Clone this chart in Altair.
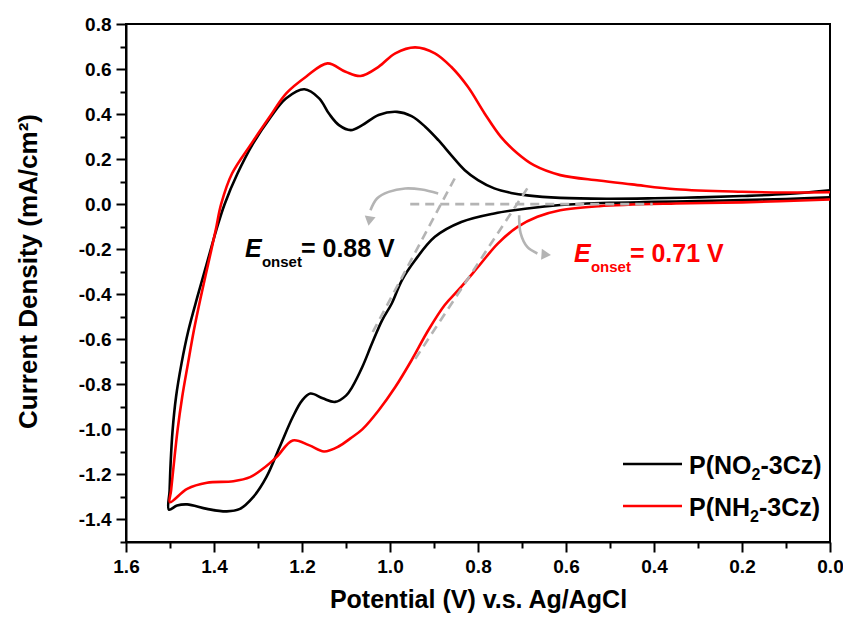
import altair as alt
import pandas as pd

# ---------------- data ----------------
# P(NO2-3Cz) : closed CV loop, potential (V) and current density (mA/cm2)
no2_v = [0.00, 0.10, 0.20, 0.30, 0.40, 0.508, 0.613, 0.688, 0.725, 0.763, 0.800, 0.830,
         0.861, 0.890, 0.920, 0.951, 0.984, 1.026, 1.063, 1.089, 1.116, 1.138, 1.161,
         1.1946, 1.2358, 1.2734, 1.311, 1.3466, 1.3759, 1.395, 1.4164, 1.4378, 1.4581, 1.4739,
         1.4863, 1.4941, 1.4986, 1.5009, 1.5025,
         1.484, 1.461, 1.416, 1.371, 1.341, 1.311, 1.281, 1.251, 1.221, 1.200, 1.181,
         1.153, 1.125, 1.100, 1.086, 1.063, 1.041, 1.018, 0.996, 0.973, 0.943, 0.898,
         0.838, 0.763, 0.688, 0.613, 0.50, 0.40, 0.30, 0.20, 0.10, 0.00]
no2_i = [0.062, 0.045, 0.036, 0.030, 0.026, 0.024, 0.028, 0.039, 0.050, 0.070, 0.107, 0.151,
         0.218, 0.284, 0.344, 0.391, 0.410, 0.396, 0.351, 0.329, 0.351, 0.400, 0.470,
         0.510, 0.470, 0.381, 0.270, 0.136, 0.000, -0.116, -0.264, -0.412, -0.560, -0.708,
         -0.856, -1.004, -1.151, -1.271, -1.356,
         -1.338, -1.333, -1.353, -1.364, -1.353, -1.301, -1.212, -1.079, -0.945, -0.872, -0.841,
         -0.862, -0.878, -0.850, -0.812, -0.723, -0.619, -0.516, -0.441, -0.338, -0.249, -0.145,
         -0.079, -0.041, -0.019, -0.004, 0.006, 0.010, 0.014, 0.018, 0.023, 0.030]

# P(NH2-3Cz)
nh2_v = [0.00, 0.10, 0.20, 0.35, 0.45, 0.525, 0.613, 0.673, 0.710, 0.748, 0.785, 0.823,
         0.861, 0.898, 0.943, 0.988, 1.026, 1.067, 1.101, 1.1421, 1.1908, 1.2358, 1.2734,
         1.3146, 1.359, 1.3838, 1.3962, 1.4131, 1.430, 1.4457, 1.4592, 1.4723, 1.4829, 1.4912,
         1.4975, 1.5002,
         1.461, 1.416, 1.356, 1.318, 1.289, 1.258, 1.221, 1.183, 1.150, 1.116, 1.090,
         1.063, 1.026, 0.988, 0.951, 0.913, 0.876, 0.845, 0.800, 0.755, 0.710, 0.665,
         0.613, 0.525, 0.35, 0.20, 0.00]
nh2_i = [0.053, 0.052, 0.055, 0.066, 0.088, 0.105, 0.129, 0.173, 0.225, 0.299, 0.403, 0.521,
         0.610, 0.670, 0.696, 0.670, 0.610, 0.569, 0.588, 0.625, 0.566, 0.492, 0.388,
         0.270, 0.136, 0.000, -0.116, -0.264, -0.412, -0.560, -0.708, -0.856, -1.004, -1.152,
         -1.271, -1.323,
         -1.264, -1.237, -1.230, -1.212, -1.175, -1.123, -1.049, -1.071, -1.098, -1.075, -1.040,
         -1.000, -0.916, -0.812, -0.693, -0.560, -0.449, -0.382, -0.279, -0.175, -0.101, -0.056,
         -0.027, -0.009, 0.003, 0.008, 0.021]

series_names = ["P(NO2-3Cz)", "P(NH2-3Cz)"]

# onset construction lines (dashed grey)
tangent_no2_v = [0.853, 1.041]
tangent_no2_i = [0.114, -0.574]
tangent_nh2_v = [0.688, 0.947]
tangent_nh2_i = [0.070, -0.700]
baseline_v = [0.954, 0.403]
baseline_i = [0.0, 0.0]

# curved grey arrows
arc_no2_v = [0.8905, 0.928, 0.9655, 1.003, 1.0295, 1.0444]
arc_no2_i = [0.0476, 0.065, 0.0698, 0.0547, 0.0253, -0.0267]
arc_nh2_v = [0.7065, 0.703, 0.688, 0.665]
arc_nh2_i = [-0.049, -0.130, -0.190, -0.219]
head_v = [1.047, 0.645]
head_i = [-0.075, -0.224]

# annotation texts
onset_texts = ["0.88", "0.71"]
onset_anchor_v = [1.3297, 0.582]
onset_anchor_i = [-0.2356, -0.258]

x_ticks = [0.0, 0.1, 0.2, 0.3, 0.4, 0.5, 0.6, 0.7, 0.8, 0.9, 1.0, 1.1, 1.2, 1.3, 1.4, 1.5, 1.6]
y_ticks = [-1.5, -1.4, -1.3, -1.2, -1.1, -1.0, -0.9, -0.8, -0.7, -0.6, -0.5, -0.4, -0.3,
           -0.2, -0.1, 0.0, 0.1, 0.2, 0.3, 0.4, 0.5, 0.6, 0.7, 0.8]

# ---------------- styling ----------------
FONT = "Liberation Sans"
BLACK = "#000000"
RED = "#ff0000"
GREY = "#b4b4b4"
W, H = 704, 518

is_major = "abs(round(datum.value*10)) % 2 == 0"
label_expr = is_major + " ? replace(format(datum.value, '.1f'), '\u2212', '-') : ''"

xscale = alt.Scale(domain=[0.0, 1.6], reverse=True, nice=False, zero=False)
yscale = alt.Scale(domain=[-1.5, 0.8], nice=False, zero=False)

x_enc = alt.X("v:Q", scale=xscale,
              axis=alt.Axis(values=x_ticks, labelExpr=label_expr,
                            tickSize={"condition": {"test": is_major, "value": 10}, "value": 6},
                            title="Potential (V) v.s. Ag/AgCl", titlePadding=11, titleFontSize=25,
                            labelPadding=5, labelFlush=False))
y_enc = alt.Y("i:Q", scale=yscale,
              axis=alt.Axis(values=y_ticks, labelExpr=label_expr,
                            tickSize={"condition": {"test": is_major, "value": 10}, "value": 6},
                            title="Current Density (mA/cm\u00b2)", titlePadding=37, titleFontSize=26,
                            titleY=H / 2 - 12,
                            labelPadding=5, labelFlush=False))


def curve_df(v, i, name):
    return pd.DataFrame({"v": v, "i": i, "series": name, "k": list(range(len(v)))})


df_no2 = curve_df(no2_v, no2_i, series_names[0])
df_nh2 = curve_df(nh2_v, nh2_i, series_names[1])

line_no2 = alt.Chart(df_no2).mark_line(color=BLACK, strokeWidth=2.6, interpolate="catmull-rom").encode(
    x=x_enc, y=y_enc, order="k:Q")
line_nh2 = alt.Chart(df_nh2).mark_line(color=RED, strokeWidth=2.6, interpolate="catmull-rom").encode(
    x=x_enc, y=y_enc, order="k:Q")

df_dash = pd.concat([
    pd.DataFrame({"v": tangent_no2_v, "i": tangent_no2_i, "g": "t1", "k": [0, 1]}),
    pd.DataFrame({"v": tangent_nh2_v, "i": tangent_nh2_i, "g": "t2", "k": [0, 1]}),
    pd.DataFrame({"v": baseline_v, "i": baseline_i, "g": "b", "k": [0, 1]}),
])
dashes = alt.Chart(df_dash).mark_line(color=GREY, strokeWidth=2.6, strokeDash=[9, 6]).encode(
    x=x_enc, y=y_enc, detail="g:N", order="k:Q")

df_arc = pd.concat([
    pd.DataFrame({"v": arc_no2_v, "i": arc_no2_i, "g": "a1", "k": list(range(len(arc_no2_v)))}),
    pd.DataFrame({"v": arc_nh2_v, "i": arc_nh2_i, "g": "a2", "k": list(range(len(arc_nh2_v)))}),
])
arcs = alt.Chart(df_arc).mark_line(color=GREY, strokeWidth=2.6, interpolate="catmull-rom").encode(
    x=x_enc, y=y_enc, detail="g:N", order="k:Q")

head1 = alt.Chart(pd.DataFrame({"v": head_v[:1], "i": head_i[:1]})).mark_point(
    shape="triangle-down", filled=True, size=120, color=GREY, opacity=1, angle=10).encode(x=x_enc, y=y_enc)
head2 = alt.Chart(pd.DataFrame({"v": head_v[1:], "i": head_i[1:]})).mark_point(
    shape="triangle-right", filled=True, size=120, color=GREY, opacity=1, angle=4).encode(x=x_enc, y=y_enc)


def onset_layers(idx, color):
    d = pd.DataFrame({"v": [onset_anchor_v[idx]], "i": [onset_anchor_i[idx]],
                      "val": ["= " + onset_texts[idx] + " V"]})
    e = alt.Chart(d).mark_text(text="E", font=FONT, fontSize=25, fontWeight="bold", fontStyle="italic",
                               align="left", baseline="alphabetic", color=color).encode(x=x_enc, y=y_enc)
    sub = alt.Chart(d).mark_text(text="onset", font=FONT, fontSize=15, fontWeight="bold",
                                 align="left", baseline="alphabetic", color=color, dx=17, dy=10).encode(
        x=x_enc, y=y_enc)
    rest = alt.Chart(d).mark_text(font=FONT, fontSize=25, fontWeight="bold",
                                  align="left", baseline="alphabetic", color=color, dx=56).encode(
        x=x_enc, y=y_enc, text="val:N")
    return [e, sub, rest]


# legend (drawn manually, positions in plot pixels)
LEG_X0, LEG_X1, LEG_TX = 497, 556, 563
LEG_Y = [440, 482]
LEG_FS, LEG_SUB_FS = 25, 16
leg_layers = []
for k, (name, color) in enumerate(zip(series_names, [BLACK, RED])):
    d = pd.DataFrame({"series": [name]})
    head, tail = name.split("2")
    w_head = (2.5 if "NO" in head else 2.444) * LEG_FS
    leg_layers.append(alt.Chart(d).mark_rule(color=color, strokeWidth=2.6).encode(
        x=alt.value(LEG_X0), x2=alt.value(LEG_X1), y=alt.value(LEG_Y[k])))
    leg_layers.append(alt.Chart(d).mark_text(text=head, font=FONT, fontSize=LEG_FS, fontWeight="bold",
                                             align="left", baseline="alphabetic", color=BLACK).encode(
        x=alt.value(LEG_TX), y=alt.value(LEG_Y[k] + 10)))
    leg_layers.append(alt.Chart(d).mark_text(text="2", font=FONT, fontSize=LEG_SUB_FS, fontWeight="bold",
                                             align="left", baseline="alphabetic", color=BLACK).encode(
        x=alt.value(LEG_TX + w_head), y=alt.value(LEG_Y[k] + 16)))
    leg_layers.append(alt.Chart(d).mark_text(text=tail, font=FONT, fontSize=LEG_FS, fontWeight="bold",
                                             align="left", baseline="alphabetic", color=BLACK).encode(
        x=alt.value(LEG_TX + w_head + 0.556 * LEG_SUB_FS), y=alt.value(LEG_Y[k] + 10)))

layers = [line_no2, line_nh2, dashes, arcs, head1, head2] + onset_layers(0, BLACK) + onset_layers(1, RED) + leg_layers

chart = alt.layer(*layers).properties(
    width=W, height=H,
    autosize=alt.AutoSizeParams(type="none"),
    padding={"left": 118, "top": 16, "right": 13, "bottom": 72},
    background="white",
).configure_view(
    stroke=BLACK, strokeWidth=2
).configure_axis(
    grid=False, domainColor=BLACK, domainWidth=2, tickColor=BLACK, tickWidth=2,
    labelFont=FONT, labelFontWeight="bold", labelFontSize=19, labelColor=BLACK,
    titleFont=FONT, titleFontWeight="bold", titleColor=BLACK,
)

chart.save("out.html", embed_options={"renderer": "svg", "actions": False})
